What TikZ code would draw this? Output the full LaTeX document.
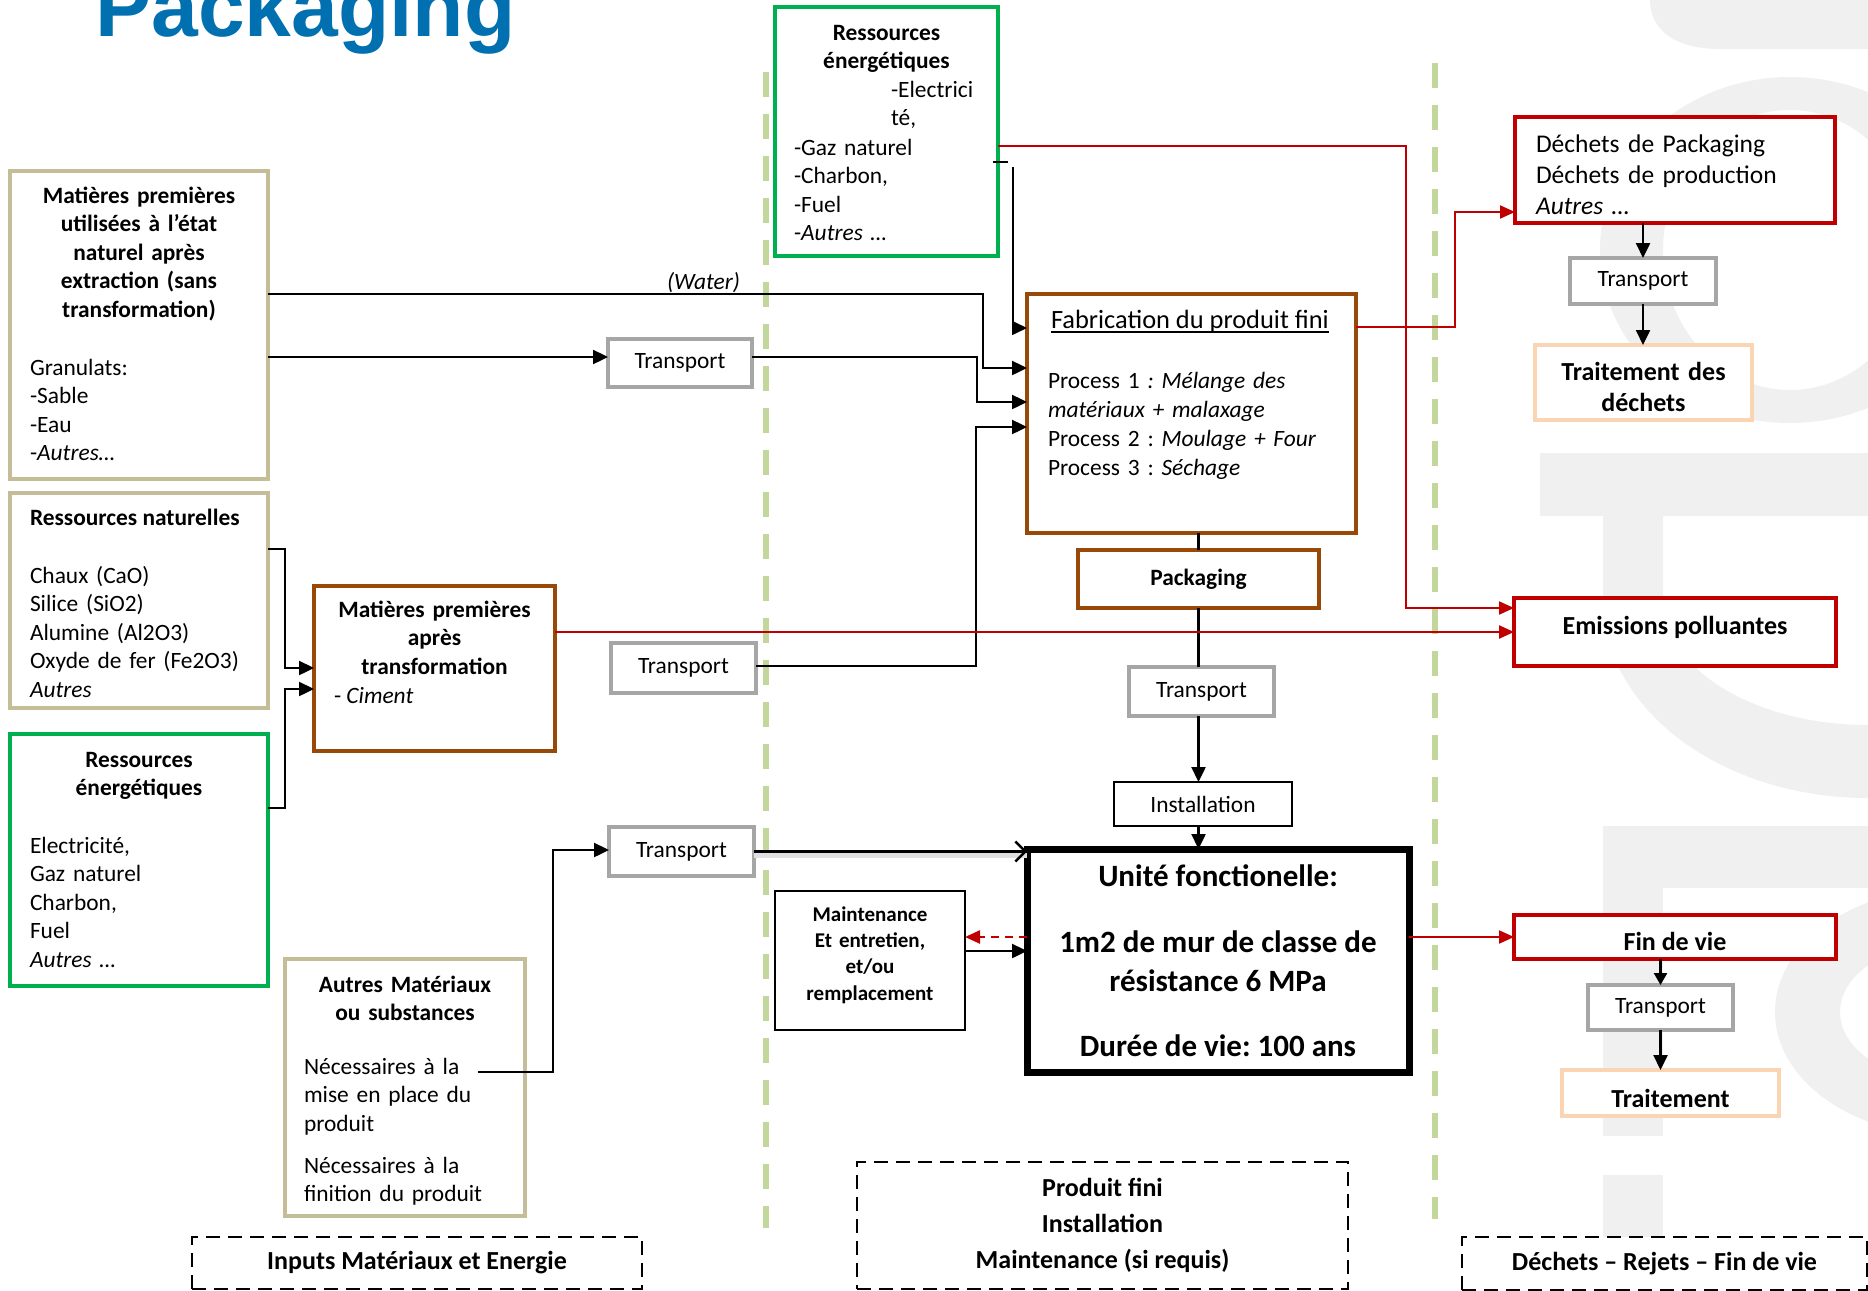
\documentclass[tikz,border=0pt]{standalone}
\usepackage{fontspec}
\setmainfont{Carlito}
\newfontfamily\headfont{Liberation Sans}
\usetikzlibrary{arrows.meta}
\definecolor{boxtan}{HTML}{C4BD97}
\definecolor{boxgreen}{HTML}{00B050}
\definecolor{boxbrown}{HTML}{984807}
\definecolor{boxred}{HTML}{C00000}
\definecolor{boxgray}{HTML}{A6A6A6}
\definecolor{boxpeach}{HTML}{FBD4B4}
\definecolor{sepgreen}{HTML}{C3D69B}
\definecolor{headblue}{HTML}{0070B0}
\definecolor{wmgray}{HTML}{F0F0F0}
\newcommand\fsBody{\fontsize{11.7pt}{14.3pt}\selectfont}
\newcommand\fsSmall{\fontsize{10.5pt}{13.2pt}\selectfont}
\newcommand\fsLarge{\fontsize{13pt}{15.5pt}\selectfont}
\newcommand\fsLabel{\fontsize{13pt}{18pt}\selectfont}
\newcommand\fsUnit{\fontsize{15.5pt}{19.5pt}\selectfont}
\frenchspacing
\begin{document}
\frenchspacing
\begin{tikzpicture}[x=0.5pt,y=-0.5pt,
  box/.style={draw, line width=2pt, fill=white, inner sep=0pt, outer sep=0pt, font=\fsBody},
  tanbox/.style={box, draw=boxtan},
  greenbox/.style={box, draw=boxgreen},
  brownbox/.style={box, draw=boxbrown},
  redbox/.style={box, draw=boxred},
  graybox/.style={box, draw=boxgray},
  peachbox/.style={box, draw=boxpeach},
  thinbox/.style={box, draw=black, line width=1pt},
  heavybox/.style={box, draw=black, line width=3.5pt},
  framebox/.style={box, draw=black, line width=0.9pt, dash pattern=on 7pt off 4pt, font=\fsLabel\bfseries, align=center},
  txt/.style={inner sep=0pt, outer sep=0pt, font=\fsBody},
  conn/.style={line width=1.2pt, -{Triangle[length=7.5pt,width=7pt]}},
  rconn/.style={draw=boxred, line width=1pt, -{Triangle[length=7.5pt,width=6.5pt]}},
  separator/.style={draw=sepgreen, line width=3pt, dash pattern=on 12.5pt off 8.5pt},
]
\path[use as bounding box, fill=white] (0,0) rectangle (1868,1290);

% faint logo watermark on the right edge
\begin{scope}
  \clip (0,0) rectangle (1868,1290);
  \fill[wmgray] (1650,0) .. controls (1650,30) and (1675,49) .. (1720,49) -- (1868,49) -- (1868,0) -- cycle;
  \fill[wmgray, even odd rule] (1790,250) ellipse [x radius=190, y radius=173]
                               (1790,250) ellipse [x radius=127, y radius=140];
  \fill[wmgray] (1540,453) rectangle (1868,516);
  \fill[wmgray] (1603,516) -- (1603,600) arc[start angle=180, end angle=90, x radius=265, y radius=198]
     -- (1868,725) arc[start angle=90, end angle=180, x radius=205, y radius=125] -- (1663,516) -- cycle;
  \fill[wmgray] (1603,826) rectangle (1868,888);
  \fill[wmgray] (1603,888) rectangle (1663,1136);
  \fill[wmgray, even odd rule] (1950,1012) ellipse [x radius=175, y radius=124]
                               (1950,1012) ellipse [x radius=110, y radius=70];
  \fill[wmgray] (1603,1175) rectangle (1663,1290);
\end{scope}

% title
\node[anchor=base west, inner sep=0pt, text=headblue, font={\fontsize{42pt}{42pt}\headfont\bfseries}] (title) at (95,36) {Packaging};

% column separators
\draw[separator] (766,72) -- (766,1228);
\draw[separator] (1435,63) -- (1435,1219);

% ---- inputs column ----
\node[tanbox, minimum width=129pt, minimum height=154pt] (nat) at (139,325) {};
\node[txt, anchor=base, text width=125pt, align=center, font=\fsBody\bfseries] (natH) at (139,203)
  {Matières premières\\utilisées à l’état\\naturel après\\extraction (sans\\transformation)};
\node[txt, anchor=base west, text width=115pt, align=left] (natL) at (30,375)
  {Granulats:\\-Sable\\-Eau\\-\textit{Autres…}};

\node[tanbox, minimum width=129pt, minimum height=107.5pt] (resnat) at (139,600.5) {};
\node[txt, anchor=base west, font=\fsBody\bfseries] (resnatH) at (30,525) {Ressources naturelles};
\node[txt, anchor=base west, text width=125pt, align=left] (resnatL) at (30,583)
  {Chaux (CaO)\\Silice (SiO2)\\Alumine (Al2O3)\\Oxyde de fer (Fe2O3)\\\textit{Autres}};

\node[greenbox, minimum width=129pt, minimum height=126pt] (energ) at (139,860) {};
\node[txt, anchor=base, text width=125pt, align=center, font=\fsBody\bfseries] (energH) at (139,767)
  {Ressources\\énergétiques};
\node[txt, anchor=base west, text width=115pt, align=left] (energL) at (30,853)
  {Electricité,\\Gaz naturel\\Charbon,\\Fuel\\\textit{Autres …}};

\node[brownbox, minimum width=120.5pt, minimum height=82.5pt] (mpt) at (434.5,668.5) {};
\node[txt, anchor=base, text width=115pt, align=center, font=\fsBody\bfseries] (mptH) at (434.5,617)
  {Matières premières\\après\\transformation};
\node[txt, anchor=base west] (mptL) at (334,703) {- \textit{Ciment}};

\node[tanbox, minimum width=120pt, minimum height=128.5pt] (autres) at (405,1087.5) {};
\node[txt, anchor=base, text width=115pt, align=center, font=\fsBody\bfseries] (autresH) at (405,992)
  {Autres Matériaux\\ou substances};
\node[txt, anchor=base west, text width=115pt, align=left] (autresA) at (304,1074)
  {Nécessaires à la\\mise en place du\\produit};
\node[txt, anchor=base west, text width=115pt, align=left] (autresB) at (304,1173)
  {Nécessaires à la\\finition du produit};

\node[framebox, minimum width=225pt, minimum height=26pt] (inputs) at (417,1263) {Inputs Matériaux et Energie};

% ---- transports of the inputs ----
\node[graybox, minimum width=72pt, minimum height=24pt] (T1) at (680,363) {Transport};
\node[graybox, minimum width=72.5pt, minimum height=25pt] (T2) at (683.5,668) {Transport};
\node[graybox, minimum width=72.5pt, minimum height=24.5pt] (T3) at (681.5,851.5) {Transport};

% ---- product column ----
\node[greenbox, minimum width=111.5pt, minimum height=124.5pt] (emid) at (886.5,131.5) {};
\node[txt, anchor=base, text width=105pt, align=center, font=\fsBody\bfseries] (emidH) at (886.5,40)
  {Ressources\\énergétiques};
\node[txt, anchor=base west, text width=50pt, align=left] (emidA) at (891,97) {-Electrici\\té,};
\node[txt, anchor=base west, text width=95pt, align=left] (emidB) at (794,155)
  {-Gaz naturel\\-Charbon,\\-Fuel\\-\textit{Autres …}};

\node[txt, anchor=base west] (water) at (667,289) {\textit{(Water)}};

\node[brownbox, minimum width=164.5pt, minimum height=119.5pt] (fab) at (1191.5,413.5) {};
\node[txt, anchor=base west, font=\fontsize{13.2pt}{15pt}\selectfont] (fabH) at (1051,328) {Fabrication du produit fini};
\draw[line width=0.6pt] ([yshift=-2pt]fabH.base west) -- ([yshift=-2pt]fabH.base east);
\node[txt, anchor=base west, text width=155pt, align=left, font=\fontsize{11.7pt}{14.5pt}\selectfont] (fabL) at (1048,388)
  {Process 1 \textit{: Mélange des}\\\textit{matériaux + malaxage}\\Process 2 : \textit{Moulage + Four}\\Process 3 : \textit{Séchage}};

\node[brownbox, minimum width=120.5pt, minimum height=29pt, font=\fsBody\bfseries] (pack) at (1198.5,579) {Packaging};
\node[graybox, minimum width=72.5pt, minimum height=24.5pt] (TM) at (1201.5,691.5) {Transport};
\node[thinbox, minimum width=89pt, minimum height=22pt] (inst) at (1203,804) {Installation};

\node[heavybox, minimum width=191pt, minimum height=111.5pt, font=\fsUnit\bfseries, align=center] (unite) at (1218,960.5)
  {Unité fonctionelle:\\[13.5pt]1m2 de mur de classe de\\résistance 6 MPa\\[13pt]Durée de vie: 100 ans};
\node[thinbox, minimum width=95pt, minimum height=69.5pt] (maint) at (870,960.5) {};
\node[txt, anchor=base, text width=90pt, align=center, font=\fsSmall\bfseries] (maintL) at (870,921)
  {Maintenance\\Et entretien,\\et/ou\\remplacement};

\node[framebox, minimum width=245.5pt, minimum height=63.5pt] (prod) at (1102.5,1225.5)
  {Produit fini\\Installation\\Maintenance (si requis)};

% ---- waste column ----
\node[redbox, minimum width=160pt, minimum height=53pt] (dech) at (1675,170) {};
\node[txt, anchor=base west, text width=150pt, align=left, font=\fontsize{12.75pt}{15.5pt}\selectfont] (dechL) at (1536,152)
  {Déchets de Packaging\\Déchets de production\\\textit{Autres …}};
\node[graybox, minimum width=73pt, minimum height=23pt] (TR1) at (1643,281) {Transport};
\node[peachbox, minimum width=108.5pt, minimum height=37.5pt] (trait1) at (1643.5,382.5) {};
\node[txt, anchor=base, text width=105pt, align=center, font=\fsLarge\bfseries] (trait1L) at (1643.5,380)
  {Traitement des\\déchets};

\node[redbox, minimum width=161pt, minimum height=34pt] (emis) at (1675,632) {};
\node[txt, anchor=base, font=\fsLarge\bfseries] (emisL) at (1675,634) {Emissions polluantes};

\node[redbox, minimum width=161pt, minimum height=22pt] (fin) at (1675,937) {};
\node[txt, anchor=base, font=\fsLarge\bfseries] (finL) at (1675,950) {Fin de vie};
\node[graybox, minimum width=72.5pt, minimum height=22.5pt] (TR2) at (1660.5,1007.5) {Transport};
\node[peachbox, minimum width=108.5pt, minimum height=23pt] (trait2) at (1670.5,1093) {};
\node[txt, anchor=base, font=\fsLarge\bfseries] (trait2L) at (1670.5,1107) {Traitement};

\node[framebox, minimum width=202.5pt, minimum height=26.5pt] (dechlab) at (1664.5,1263.5) {Déchets – Rejets – Fin de vie};

% ---- black flows ----
\coordinate (wA) at (983,294); \coordinate (wB) at (983,368);
\draw[conn] (nat.east |- wA) -- (wA) -- (wB) -- (fab.west |- wB);
\coordinate (gA) at (0,357);
\draw[conn] (nat.east |- gA) -- (T1.west |- gA);
\coordinate (tA) at (977,357); \coordinate (tB) at (977,402);
\draw[conn] (T1.east |- tA) -- (tA) -- (tB) -- (fab.west |- tB);
\coordinate (eS) at (993,162);
\draw[line width=1pt] (eS) -- ++(15,0);
\coordinate (eA) at (1013,167); \coordinate (eB) at (1013,328);
\draw[conn, line width=0.8pt] (eA) -- (eB) -- (fab.west |- eB);
\coordinate (cA) at (976,666); \coordinate (cB) at (976,427);
\draw[conn] (T2.east |- cA) -- (cA) -- (cB) -- (fab.west |- cB);
\coordinate (rA) at (285,549); \coordinate (rB) at (285,668);
\draw[conn] (resnat.east |- rA) -- (rA) -- (rB) -- (mpt.west |- rB);
\coordinate (rC) at (285,808); \coordinate (rD) at (285,689);
\draw[conn] (energ.east |- rC) -- (rC) -- (rD) -- (mpt.west |- rD);
\coordinate (aA) at (478,1072); \coordinate (aB) at (553,1072); \coordinate (aC) at (553,850);
\draw[conn] (aA) -- (aB) -- (aC) -- (T3.west |- aC);
\draw[line width=2.5pt, draw=black!12] ([yshift=-2pt]T3.east) -- ([yshift=-2pt]unite.west |- T3.east);
\draw[line width=1.2pt, -{Straight Barb[length=5pt,width=10pt]}] (T3.east) -- (unite.west |- T3.east);
\draw[line width=1.2pt] (fab.south -| pack.north) -- (pack.north);
\draw[line width=1.2pt] (pack.south) -- (pack.south |- TM.north);
\draw[conn] (TM.south -| pack.south) -- (inst.north -| pack.south);
\draw[conn] (inst.south -| pack.south) -- (unite.north -| pack.south);
\coordinate (mA) at (0,951);
\draw[conn] (maint.east |- mA) -- (unite.west |- mA);
\coordinate (mB) at (0,937);
\draw[rconn, line width=1.2pt, dash pattern=on 4pt off 3pt] (unite.west |- mB) -- (maint.east |- mB);

% ---- red flows ----
\coordinate (xA) at (1406,146); \coordinate (xB) at (1406,608);
\draw[rconn] (emid.east |- xA) -- (xA) -- (xB) -- (emis.west |- xB);
\coordinate (xC) at (0,632);
\draw[rconn, line width=1.2pt] (mpt.east |- xC) -- (emis.west |- xC);
\coordinate (xD) at (1455,327); \coordinate (xE) at (1455,212);
\draw[rconn] (fab.east |- xD) -- (xD) -- (xE) -- (dech.west |- xE);
\draw[rconn] (unite.east |- fin.west) -- (fin.west);

% ---- waste chains ----
\draw[conn] (dech.south -| TR1.north) -- (TR1.north);
\draw[conn] (TR1.south) -- (TR1.south |- trait1.north);
\draw[conn, -{Triangle[length=6pt,width=6.5pt]}] (fin.south -| TR2.north) -- (TR2.north);
\draw[conn] (TR2.south) -- (TR2.south |- trait2.north);
\end{tikzpicture}
\end{document}
